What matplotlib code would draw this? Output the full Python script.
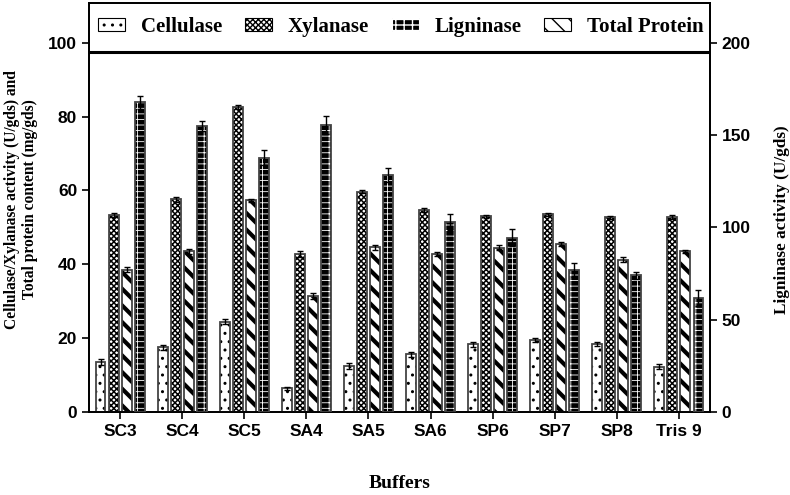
import numpy as np
import matplotlib
matplotlib.use("Agg")
import matplotlib.pyplot as plt
from matplotlib.patches import Patch

buffers = ['SC3', 'SC4', 'SC5', 'SA4', 'SA5', 'SA6', 'SP6', 'SP7', 'SP8', 'Tris 9']

# left axis (U/gds, mg/gds)
cellulase = [13.5, 17.5, 24.5, 6.4, 12.4, 15.6, 18.3, 19.5, 18.4, 12.3]
cellulase_err = [0.8, 0.7, 0.8, 0.5, 0.8, 0.6, 0.6, 0.6, 0.5, 0.6]
xylanase = [53.4, 57.6, 82.6, 42.8, 59.7, 54.7, 53.0, 53.5, 52.7, 52.9]
xylanase_err = [0.6, 0.6, 0.5, 0.7, 0.5, 0.6, 0.4, 0.5, 0.5, 0.5]
protein = [38.5, 43.5, 57.3, 31.4, 44.6, 42.8, 44.5, 45.5, 41.2, 43.6]
protein_err = [0.7, 0.6, 0.5, 0.7, 0.6, 0.6, 0.7, 0.6, 0.7, 0.4]
# right axis (U/gds)
ligninase = [167.8, 155.0, 137.8, 155.6, 128.3, 102.8, 94.5, 77.0, 74.0, 61.6]
ligninase_err = [3.4, 2.6, 4.2, 4.8, 3.8, 4.4, 4.4, 3.6, 2.0, 4.4]

sans = 'Liberation Sans'
serif = 'Liberation Serif'

fig = plt.figure(figsize=(7.9, 4.95), dpi=100)
ax = fig.add_axes([0.1127, 0.1677, 0.786, 0.8263])
ax2 = ax.twinx()

x = np.arange(len(buffers))
w = 0.16
step = 0.21
ekw = dict(elinewidth=1, capthick=1, capsize=2.5, ecolor='black')
edge = '#444444'

# hatch settings: (face, hatch colour, hatch, hatch linewidth)
h_cell = ('white', 'black', '..', 1.0)
h_xyl = ('white', 'black', 'xxxxxx', 1.1)
h_prot = ('white', 'black', '\\\\', 3.0)
h_lig = ('black', 'white', '---||', 0.6)


def hatched(axis, pos, vals, errs, style):
    fc, hc, hatch, hlw = style
    with plt.rc_context({'hatch.linewidth': hlw}):
        bars = axis.bar(pos, vals, w, color=fc, edgecolor=hc, hatch=hatch, linewidth=0, zorder=2)
        for b in bars:
            if hasattr(b, 'set_hatch_linewidth'):
                b.set_hatch_linewidth(hlw)
    axis.bar(pos, vals, w, fill=False, edgecolor=edge, linewidth=1.3, zorder=3)
    axis.errorbar(pos, vals, yerr=errs, fmt='none', zorder=4, **ekw)


hatched(ax, x - 1.5 * step, cellulase, cellulase_err, h_cell)
hatched(ax, x - 0.5 * step, xylanase, xylanase_err, h_xyl)
hatched(ax, x + 0.5 * step, protein, protein_err, h_prot)
hatched(ax2, x + 1.5 * step, ligninase, ligninase_err, h_lig)

ax.set_xlim(-0.5, 9.5)
ax.set_ylim(0, 110.8)
ax2.set_ylim(0, 221.6)
ax.set_yticks([0, 20, 40, 60, 80, 100])
ax2.set_yticks([0, 50, 100, 150, 200])
ax.set_xticks(x)
ax.set_xticklabels(buffers, fontfamily=sans, fontweight='bold', fontsize=12.5)
for lab in ax.get_yticklabels() + ax2.get_yticklabels():
    lab.set_fontfamily(sans)
    lab.set_fontweight('bold')
    lab.set_fontsize(12.5)
for a in (ax, ax2):
    a.tick_params(direction='out', length=5, width=1.2)
    for s in a.spines.values():
        s.set_linewidth(1.3)

# legend strip at the top of the frame
ax.axhline(97.4, color='black', linewidth=2.2, zorder=5)


def handle(style):
    fc, hc, hatch, hlw = style
    with plt.rc_context({'hatch.linewidth': hlw}):
        p = Patch(facecolor=fc, edgecolor=hc, hatch=hatch, linewidth=0.8)
        if hasattr(p, 'set_hatch_linewidth'):
            p.set_hatch_linewidth(hlw)
    return p


handles = [handle(h_cell), handle(h_xyl), handle(h_lig), handle(h_prot)]
leg = ax.legend(handles, ['Cellulase', 'Xylanase', 'Ligninase', 'Total Protein'],
                loc='center', bbox_to_anchor=(0.502, 0.941), ncol=4, frameon=False,
                prop={'family': serif, 'weight': 'bold', 'size': 15},
                handlelength=1.3, handleheight=0.55, columnspacing=1.1, handletextpad=0.75)

ax.set_ylabel('Cellulase/Xylanase activity (U/gds) and\nTotal protein content (mg/gds)',
              fontfamily=serif, fontweight='bold', fontsize=11.2, linespacing=1.15)
ax.yaxis.set_label_coords(-0.082, 0.52)
ax2.set_ylabel('Ligninase activity (U/gds)', fontfamily=serif, fontweight='bold', fontsize=12.4)
ax2.yaxis.set_label_coords(1.103, 0.47)
fig.text(0.506, 0.024, 'Buffers', fontfamily=serif, fontweight='bold', fontsize=14,
         ha='center', va='center')

fig.savefig('out.png', dpi=100)
